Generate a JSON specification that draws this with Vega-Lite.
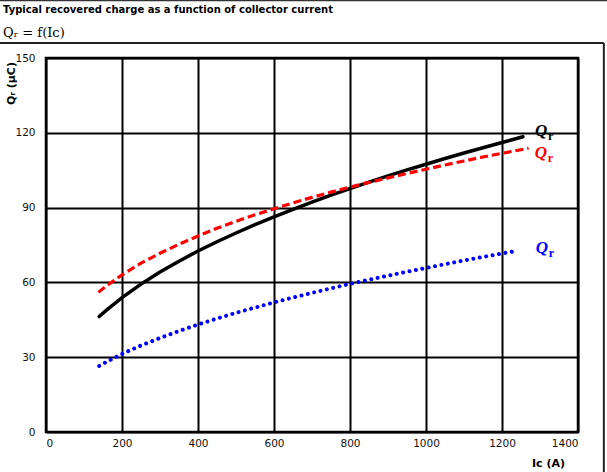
{
  "$schema": "https://vega.github.io/schema/vega-lite/v6.json",
  "autosize": "none",
  "width": 532,
  "height": 374,
  "padding": {"left": 46, "top": 58, "right": 29, "bottom": 40},
  "background": "white",
  "title": {
    "text": "Typical recovered charge as a function of collector current",
    "subtitle": "Qᵣ = f(Iᴄ)",
    "anchor": "start",
    "frame": "group",
    "dx": -43,
    "offset": -41,
    "font": "DejaVu Sans",
    "fontSize": 10,
    "fontWeight": "bold",
    "color": "#000000",
    "subtitleFont": "DejaVu Serif",
    "subtitleFontSize": 13,
    "subtitleColor": "#000000",
    "subtitlePadding": 12
  },
  "datasets": {
    "curves": [
      {"series": "black", "ic": 140, "qr": 46.3},
      {"series": "black", "ic": 160, "qr": 49.0},
      {"series": "black", "ic": 200, "qr": 53.9},
      {"series": "black", "ic": 250, "qr": 59.3},
      {"series": "black", "ic": 300, "qr": 64.2},
      {"series": "black", "ic": 350, "qr": 68.5},
      {"series": "black", "ic": 400, "qr": 72.6},
      {"series": "black", "ic": 450, "qr": 76.3},
      {"series": "black", "ic": 500, "qr": 79.8},
      {"series": "black", "ic": 550, "qr": 83.2},
      {"series": "black", "ic": 600, "qr": 86.3},
      {"series": "black", "ic": 650, "qr": 89.3},
      {"series": "black", "ic": 700, "qr": 92.2},
      {"series": "black", "ic": 750, "qr": 95.0},
      {"series": "black", "ic": 800, "qr": 97.6},
      {"series": "black", "ic": 850, "qr": 100.2},
      {"series": "black", "ic": 900, "qr": 102.7},
      {"series": "black", "ic": 950, "qr": 105.1},
      {"series": "black", "ic": 1000, "qr": 107.4},
      {"series": "black", "ic": 1050, "qr": 109.7},
      {"series": "black", "ic": 1100, "qr": 111.9},
      {"series": "black", "ic": 1150, "qr": 114.0},
      {"series": "black", "ic": 1200, "qr": 116.1},
      {"series": "black", "ic": 1255, "qr": 118.4},
      {"series": "red", "ic": 138, "qr": 56.0},
      {"series": "red", "ic": 160, "qr": 58.7},
      {"series": "red", "ic": 200, "qr": 63.0},
      {"series": "red", "ic": 250, "qr": 67.7},
      {"series": "red", "ic": 300, "qr": 71.7},
      {"series": "red", "ic": 350, "qr": 75.3},
      {"series": "red", "ic": 400, "qr": 78.6},
      {"series": "red", "ic": 450, "qr": 81.7},
      {"series": "red", "ic": 500, "qr": 84.5},
      {"series": "red", "ic": 550, "qr": 87.1},
      {"series": "red", "ic": 600, "qr": 89.5},
      {"series": "red", "ic": 650, "qr": 91.9},
      {"series": "red", "ic": 700, "qr": 94.1},
      {"series": "red", "ic": 750, "qr": 96.2},
      {"series": "red", "ic": 800, "qr": 98.2},
      {"series": "red", "ic": 850, "qr": 100.1},
      {"series": "red", "ic": 900, "qr": 101.9},
      {"series": "red", "ic": 950, "qr": 103.7},
      {"series": "red", "ic": 1000, "qr": 105.4},
      {"series": "red", "ic": 1050, "qr": 107.1},
      {"series": "red", "ic": 1100, "qr": 108.7},
      {"series": "red", "ic": 1150, "qr": 110.3},
      {"series": "red", "ic": 1200, "qr": 111.8},
      {"series": "red", "ic": 1250, "qr": 113.2},
      {"series": "red", "ic": 1270, "qr": 113.8},
      {"series": "blue", "ic": 140, "qr": 26.5},
      {"series": "blue", "ic": 160, "qr": 28.2},
      {"series": "blue", "ic": 200, "qr": 31.3},
      {"series": "blue", "ic": 250, "qr": 34.7},
      {"series": "blue", "ic": 300, "qr": 37.7},
      {"series": "blue", "ic": 350, "qr": 40.5},
      {"series": "blue", "ic": 400, "qr": 43.1},
      {"series": "blue", "ic": 450, "qr": 45.5},
      {"series": "blue", "ic": 500, "qr": 47.8},
      {"series": "blue", "ic": 550, "qr": 49.9},
      {"series": "blue", "ic": 600, "qr": 52.0},
      {"series": "blue", "ic": 650, "qr": 53.9},
      {"series": "blue", "ic": 700, "qr": 55.8},
      {"series": "blue", "ic": 750, "qr": 57.6},
      {"series": "blue", "ic": 800, "qr": 59.4},
      {"series": "blue", "ic": 850, "qr": 61.1},
      {"series": "blue", "ic": 900, "qr": 62.7},
      {"series": "blue", "ic": 950, "qr": 64.3},
      {"series": "blue", "ic": 1000, "qr": 65.8},
      {"series": "blue", "ic": 1050, "qr": 67.3},
      {"series": "blue", "ic": 1100, "qr": 68.8},
      {"series": "blue", "ic": 1150, "qr": 70.2},
      {"series": "blue", "ic": 1200, "qr": 71.6},
      {"series": "blue", "ic": 1240, "qr": 72.7}
    ],
    "labels": [
      {"series": "black", "ic": 1287, "qr": 120.7},
      {"series": "red", "ic": 1286, "qr": 111.7},
      {"series": "blue", "ic": 1289, "qr": 73.8}
    ]
  },
  "layer": [
    {
      "data": {"name": "curves"},
      "transform": [{"filter": "datum.series === 'black'"}],
      "mark": {"type": "line", "color": "#000000", "strokeWidth": 3.5, "strokeCap": "round"},
      "encoding": {
        "x": {
          "field": "ic", "type": "quantitative",
          "scale": {"domain": [0, 1400], "nice": false},
          "axis": {
            "values": [0, 200, 400, 600, 800, 1000, 1200, 1400],
            "format": "d",
            "title": "Iᴄ (A)",
            "titleX": 502, "titleY": 31,
            "titleAlign": "center", "titleBaseline": "middle"
          }
        },
        "y": {
          "field": "qr", "type": "quantitative",
          "scale": {"domain": [0, 150], "nice": false},
          "axis": {
            "values": [0, 30, 60, 90, 120, 150],
            "format": "d",
            "title": "Qᵣ (µC)",
            "titleAngle": 270,
            "titleX": -35, "titleY": 25,
            "titleAlign": "center", "titleBaseline": "middle"
          }
        }
      }
    },
    {
      "data": {"name": "curves"},
      "transform": [{"filter": "datum.series === 'red'"}],
      "mark": {"type": "line", "color": "#ff0000", "strokeWidth": 3.2, "strokeDash": [8, 4]},
      "encoding": {
        "x": {"field": "ic", "type": "quantitative", "scale": {"domain": [0, 1400], "nice": false}},
        "y": {"field": "qr", "type": "quantitative", "scale": {"domain": [0, 150], "nice": false}}
      }
    },
    {
      "data": {"name": "curves"},
      "transform": [{"filter": "datum.series === 'blue'"}],
      "mark": {"type": "line", "color": "#0000ff", "strokeWidth": 4, "strokeCap": "round", "strokeDash": [0.01, 6.5]},
      "encoding": {
        "x": {"field": "ic", "type": "quantitative", "scale": {"domain": [0, 1400], "nice": false}},
        "y": {"field": "qr", "type": "quantitative", "scale": {"domain": [0, 150], "nice": false}}
      }
    },
    {
      "data": {"name": "labels"},
      "mark": {"type": "text", "align": "left", "baseline": "middle", "font": "Liberation Serif", "fontSize": 17, "fontWeight": "bold", "fontStyle": "italic"},
      "encoding": {
        "x": {"field": "ic", "type": "quantitative", "scale": {"domain": [0, 1400], "nice": false}},
        "y": {"field": "qr", "type": "quantitative", "scale": {"domain": [0, 150], "nice": false}},
        "text": {"value": "Q"},
        "color": {"field": "series", "type": "nominal", "scale": {"domain": ["black", "red", "blue"], "range": ["#000000", "#ff0000", "#0000ff"]}, "legend": null}
      }
    },
    {
      "data": {"name": "labels"},
      "mark": {"type": "text", "align": "left", "baseline": "middle", "font": "Liberation Serif", "fontSize": 12, "fontWeight": "bold", "dx": 13, "dy": 5},
      "encoding": {
        "x": {"field": "ic", "type": "quantitative", "scale": {"domain": [0, 1400], "nice": false}},
        "y": {"field": "qr", "type": "quantitative", "scale": {"domain": [0, 150], "nice": false}},
        "text": {"value": "r"},
        "color": {"field": "series", "type": "nominal", "scale": {"domain": ["black", "red", "blue"], "range": ["#000000", "#ff0000", "#0000ff"]}, "legend": null}
      }
    },
    {
      "data": {"values": [{}]},
      "mark": {"type": "rule", "color": "#222222", "strokeWidth": 2},
      "encoding": {
        "x": {"datum": -121, "type": "quantitative", "scale": {"domain": [0, 1400], "nice": false}},
        "x2": {"datum": 1468},
        "y": {"datum": 156, "type": "quantitative", "scale": {"domain": [0, 150], "nice": false}}
      }
    },
    {
      "data": {"values": [{}]},
      "mark": {"type": "rule", "color": "#222222", "strokeWidth": 2},
      "encoding": {
        "x": {"datum": 1468, "type": "quantitative", "scale": {"domain": [0, 1400], "nice": false}},
        "y": {"datum": 156, "type": "quantitative", "scale": {"domain": [0, 150], "nice": false}},
        "y2": {"datum": -16.5}
      }
    },
    {
      "data": {"values": [{}]},
      "mark": {"type": "rule", "color": "#333333", "strokeWidth": 2},
      "encoding": {
        "x": {"datum": -121, "type": "quantitative", "scale": {"domain": [0, 1400], "nice": false}},
        "x2": {"datum": 1477},
        "y": {"datum": 173.2, "type": "quantitative", "scale": {"domain": [0, 150], "nice": false}}
      }
    }
  ],
  "config": {
    "view": {"stroke": "#000000", "strokeWidth": 2.5},
    "axis": {
      "grid": true,
      "gridColor": "#000000",
      "gridWidth": 2,
      "gridOpacity": 1,
      "domain": false,
      "ticks": false,
      "labelFont": "DejaVu Sans",
      "labelFontSize": 10.5,
      "labelColor": "#111111",
      "titleFont": "DejaVu Sans",
      "titleFontSize": 11,
      "titleFontWeight": "bold",
      "titleColor": "#000000"
    },
    "axisX": {"labelPadding": 6},
    "axisY": {"labelPadding": 11}
  }
}
